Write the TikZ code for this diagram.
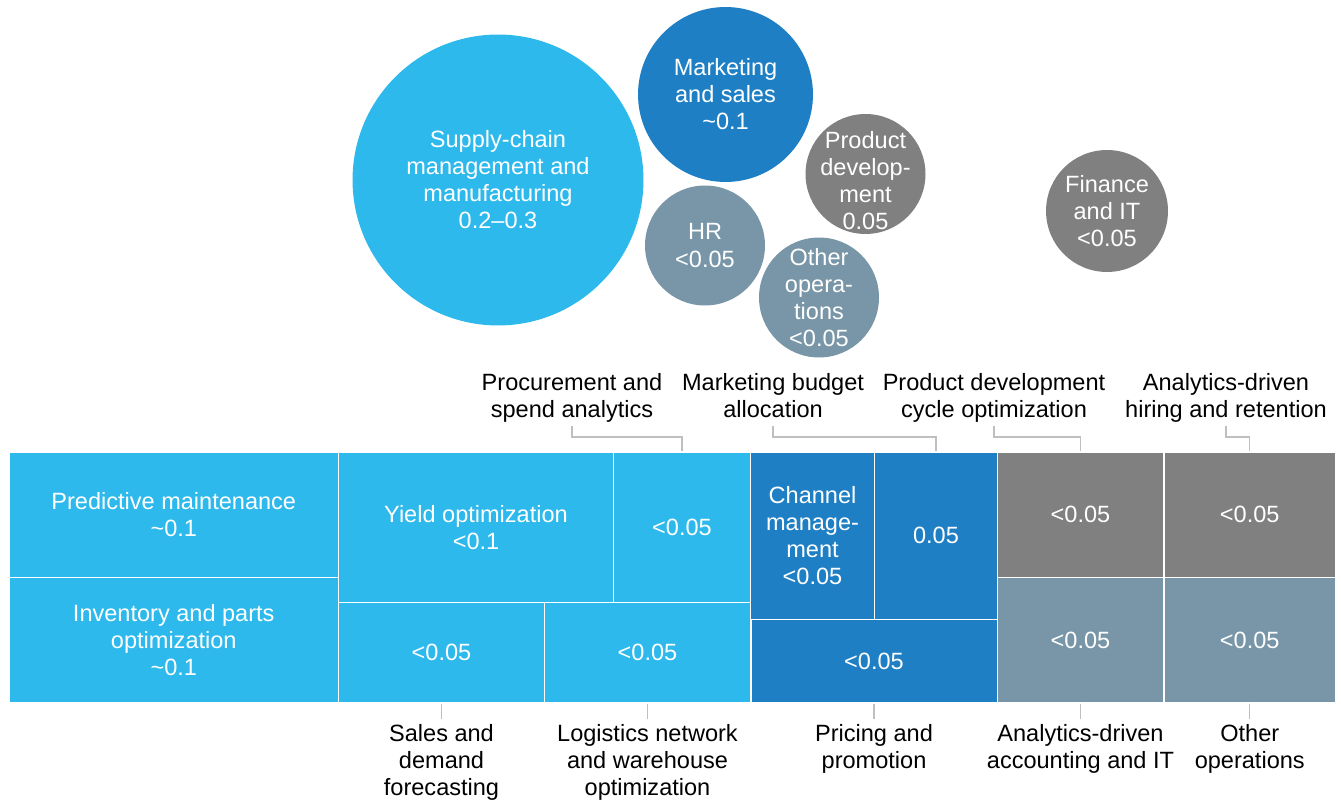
\documentclass[tikz,border=0pt]{standalone}
\usepackage{fontspec}
\setmainfont{Liberation Sans}
\usetikzlibrary{positioning,calc}
\definecolor{skyblue}{HTML}{2DB9EC}
\definecolor{mktblue}{HTML}{1F7FC4}
\definecolor{darkgray}{HTML}{808080}
\definecolor{slategray}{HTML}{7896A7}
\definecolor{leadgray}{HTML}{BFBFBF}
\tikzset{
cellnode/.style={rectangle, draw=white, line width=1.1pt, inner sep=0pt, text=white, align=center},
bubble/.style={circle, inner sep=0pt},
bubbletext/.style={text=white, align=center, inner sep=0pt},
tagnode/.style={anchor=north, inner sep=0pt, align=center, execute at end node=\strut},
leader/.style={draw=leadgray, line width=0.8pt}
}
\begin{document}
\begin{tikzpicture}[x=0.02cm, y=-0.02cm, every node/.style={font=\fontsize{13.4}{15.4}\selectfont}]
\useasboundingbox (0,0) rectangle (1341,803);

%Bubbles
\node[bubble, fill=skyblue, minimum size=5.82cm, label={[bubbletext]center:{Supply-chain\\management and\\manufacturing\\0.2--0.3}}] (scm) at (498,180) {};
\node[bubble, fill=mktblue, minimum size=3.5cm, label={[bubbletext]center:{Marketing\\and sales\\\textasciitilde0.1}}] (mks) at (725.5,94.5) {};
\node[bubble, fill=darkgray, minimum size=2.4cm, label={[bubbletext, yshift=-0.13cm]center:{Product\\develop-\\ment\\0.05}}] (pdv) at (865.5,174) {};
\node[bubble, fill=slategray, minimum size=2.4cm, label={[bubbletext]center:{HR\\<0.05}}] (hrb) at (705,245.5) {};
\node[bubble, fill=slategray, minimum size=2.4cm, label={[bubbletext]center:{Other\\opera-\\tions\\<0.05}}] (oob) at (819,297.5) {};
\node[bubble, fill=darkgray, minimum size=2.44cm, label={[bubbletext]center:{Finance\\and IT\\<0.05}}] (fit) at (1107,211) {};

%Treemap cells
\node[cellnode, fill=skyblue, minimum width=6.59cm, minimum height=2.51cm] (pm) at (173.75,514.75) {Predictive maintenance\\\textasciitilde0.1};
\node[cellnode, fill=skyblue, minimum width=6.59cm, minimum height=2.51cm] (inv) at (173.75,640.25) {Inventory and parts\\optimization\\\textasciitilde0.1};
\node[cellnode, fill=skyblue, minimum width=5.5cm, minimum height=3.01cm] (yld) at (476,527.25) {Yield optimization\\<0.1};
\node[cellnode, fill=skyblue, minimum width=2.74cm, minimum height=3.01cm] (proc) at (682,527.25) {<0.05};
\node[cellnode, fill=skyblue, minimum width=4.12cm, minimum height=2.01cm] (sales) at (441.5,652.75) {<0.05};
\node[cellnode, fill=skyblue, minimum width=4.12cm, minimum height=2.01cm] (logi) at (647.5,652.75) {<0.05};
\node[cellnode, fill=mktblue, minimum width=2.48cm, minimum height=3.35cm] (chan) at (812.5,535.75) {Channel\\manage-\\ment\\<0.05};
\node[cellnode, fill=mktblue, minimum width=2.46cm, minimum height=3.35cm] (budg) at (936,535.75) {0.05};
\node[cellnode, fill=mktblue, minimum width=4.94cm, minimum height=1.67cm] (price) at (874,661.25) {<0.05};
\node[cellnode, fill=darkgray, minimum width=3.32cm, minimum height=2.51cm] (pdc) at (1080.5,514.75) {<0.05};
\node[cellnode, fill=darkgray, minimum width=3.45cm, minimum height=2.51cm] (hire) at (1249.75,514.75) {<0.05};
\node[cellnode, fill=slategray, minimum width=3.32cm, minimum height=2.51cm] (acct) at (1080.5,640.25) {<0.05};
\node[cellnode, fill=slategray, minimum width=3.45cm, minimum height=2.51cm] (oth) at (1249.75,640.25) {<0.05};

%Labels above
\node[tagnode] (procl) at (572,373) {Procurement and\\spend analytics};
\node[tagnode] (budgl) at (773,373) {Marketing budget\\allocation};
\node[tagnode] (pdcl) at (994,373) {Product development\\cycle optimization};
\node[tagnode] (hirel) at (1226,373) {Analytics-driven\\hiring and retention};

%Labels below
\node[tagnode, below=0.4cm of sales] (salesl) {Sales and\\demand\\forecasting};
\node[tagnode, below=0.4cm of logi] (logil) {Logistics network\\and warehouse\\optimization};
\node[tagnode, below=0.4cm of price] (pricel) {Pricing and\\promotion};
\node[tagnode, below=0.4cm of acct] (acctl) {Analytics-driven\\accounting and IT};
\node[tagnode, below=0.4cm of oth] (othl) {Other\\operations};

%Leaders
\draw[leader] (procl.south) -- ++(0,11) -| (proc.north);
\draw[leader] (budgl.south) -- ++(0,11) -| (budg.north);
\draw[leader] (pdcl.south) -- ++(0,11) -| (pdc.north);
\draw[leader] (hirel.south) -- ++(0,11) -| (hire.north);
\draw[leader, shorten >=3pt] (sales.south) -- (salesl.north);
\draw[leader, shorten >=3pt] (logi.south) -- (logil.north);
\draw[leader, shorten >=3pt] (price.south) -- (pricel.north);
\draw[leader, shorten >=3pt] (acct.south) -- (acctl.north);
\draw[leader, shorten >=3pt] (oth.south) -- (othl.north);

\end{tikzpicture}
\end{document}
